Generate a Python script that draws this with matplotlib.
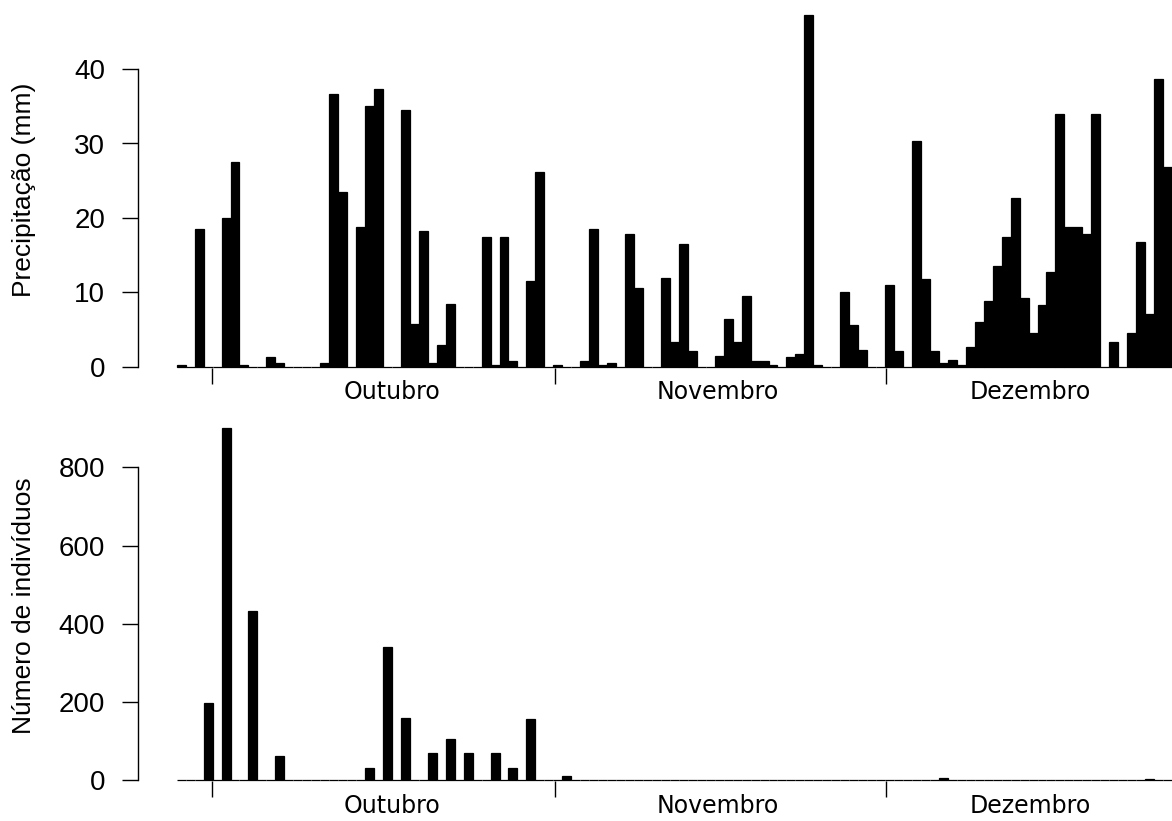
import matplotlib
matplotlib.use('Agg')
import matplotlib.pyplot as plt
import numpy as np

# precipitação diária (mm), uma barra por dia
precip = [0.3, 0, 18.5, 0, 0, 20.0, 27.5, 0.3, 0, 0,
          1.3, 0.5, 0, 0, 0, 0, 0.6, 36.7, 23.5, 0,
          18.8, 35.0, 37.3, 0, 0, 34.5, 5.8, 18.3, 0.6, 3.0,
          8.5, 0, 0, 0, 17.5, 0.3, 17.5, 0.8, 0, 11.5,
          26.2, 0, 0.3, 0, 0, 0.8, 18.5, 0.3, 0.5, 0,
          17.8, 10.6, 0, 0, 12.0, 3.3, 16.5, 2.1, 0, 0,
          1.5, 6.5, 3.3, 9.5, 0.8, 0.8, 0.3, 0, 1.3, 1.8,
          47.3, 0.3, 0, 0, 10.1, 5.6, 2.3, 0, 0, 11.0,
          2.1, 0, 30.3, 11.8, 2.1, 0.6, 1.0, 0.3, 2.7, 6.0,
          8.8, 13.5, 17.5, 22.7, 9.3, 4.5, 8.3, 12.8, 34.0, 18.8,
          18.8, 17.8, 34.0, 0, 3.3, 0, 4.5, 16.8, 7.1, 38.7,
          26.8]

# número de indivíduos capturados (dias sem captura = 0)
individuos = [0, 0, 0, 197, 0, 900, 0, 0, 432, 0,
              0, 62, 0, 0, 0, 0, 0, 0, 0, 0,
              0, 30, 0, 341, 0, 158, 0, 0, 68, 0,
              105, 0, 70, 0, 0, 69, 0, 32, 0, 156,
              0, 0, 0, 11, 0, 0, 0, 0, 0, 0,
              0, 0, 0, 0, 0, 0, 0, 0, 0, 0,
              0, 0, 0, 0, 0, 0, 0, 0, 0, 0,
              0, 0, 1, 0, 0, 0, 0, 0, 1, 0,
              0, 0, 0, 0, 0, 4, 0, 0, 0, 0,
              0, 0, 0, 0, 0, 0, 0, 0, 0, 0,
              0, 0, 0, 0, 0, 0, 0, 0, 3, 0,
              0]

meses = ['Outubro', 'Novembro', 'Dezembro']
limites_mes = [3.97, 42.19, 79.11]   # marcas entre meses
centro_mes = [23.98, 60.37, 95.17]   # posição dos nomes

W, H = 1172, 821
fig = plt.figure(figsize=(W / 100, H / 100), dpi=100)

XLIM = (-4.32, 111)
AX_L = 138


def make_ax(y0_px, px_per_unit, ylim):
    # eixo posicionado em pixels: y0_px = posição do zero
    bot = y0_px - ylim[0] * px_per_unit
    top = y0_px - ylim[1] * px_per_unit
    ax = fig.add_axes([AX_L / W, 1 - bot / H, (W - AX_L) / W, (bot - top) / H])
    ax.set_ylim(*ylim)
    return ax


def style(ax, yticks, ylabel, ylabel_y):
    ax.set_xlim(*XLIM)
    for s in ['top', 'right', 'bottom']:
        ax.spines[s].set_visible(False)
    ax.spines['left'].set_bounds(yticks[0], yticks[-1])
    ax.spines['left'].set_linewidth(1.0)
    ax.set_yticks(yticks)
    ax.set_yticklabels([str(t) for t in yticks], family='Liberation Sans', fontsize=20)
    ax.tick_params(axis='y', length=11.5, width=1.0, pad=12)
    ax.set_xticks(limites_mes)
    ax.set_xticklabels([])
    ax.tick_params(axis='x', which='major', length=11.5, width=1.0, direction='out')
    ax.set_xticks(centro_mes, minor=True)
    ax.set_xticklabels(meses, minor=True, family='DejaVu Sans', fontsize=17)
    ax.tick_params(axis='x', which='minor', length=0, pad=9)
    fig.text(24 / W, 1 - ylabel_y / H, ylabel, rotation=90, ha='center', va='center',
             family='Liberation Sans', fontsize=19)


x = np.arange(len(precip))

# ── precipitação ──
ax1 = make_ax(367, 7.45, (-0.12, 48))
ax1.bar(x, precip, width=1, align='edge', color='black', edgecolor='black',
        linewidth=0.9, clip_on=False)
style(ax1, [0, 10, 20, 30, 40], 'Precipitação (mm)', 190)

# ── indivíduos ──
ax2 = make_ax(780, (780 - 467.5) / 800, (-3, 940))
ax2.bar(x, individuos, width=1, align='edge', color='black', edgecolor='black',
        linewidth=0.9, clip_on=False)
style(ax2, [0, 200, 400, 600, 800], 'Número de indivíduos', 606)

plt.savefig('out.png', dpi=100)
